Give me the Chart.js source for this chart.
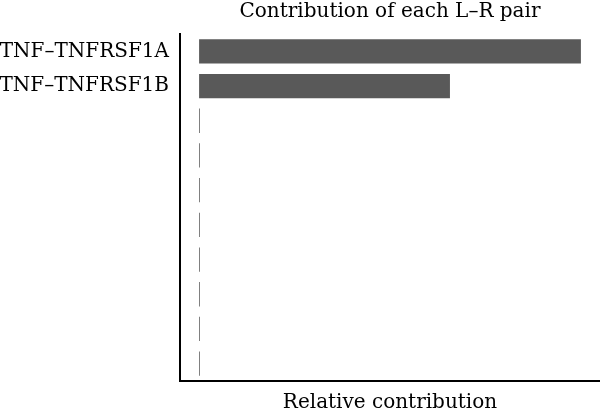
<!DOCTYPE html>
<html><head><meta charset="utf-8">
<script src="https://cdn.jsdelivr.net/npm/chart.js@4"></script>
<style>html,body{margin:0;padding:0;background:#fff}#w{width:600px;height:415px}</style>
</head><body><div id="w"><canvas id="c"></canvas></div>
<script>
const categories = ['TNF\u2013TNFRSF1A','TNF\u2013TNFRSF1B','','','','','','','',''];
const contribution = [1, 0.657, 0.002, 0.002, 0.002, 0.002, 0.002, 0.002, 0.002, 0.002];
const xMin = -0.05, xMax = 1.05;
const titleText = 'Contribution of each L\u2013R pair';
const FONT = "'DejaVu Serif', serif";
const titlePlugin = {
  id: 'centerTitle',
  afterDraw(chart) {
    const ctx = chart.ctx, a = chart.chartArea;
    ctx.save();
    ctx.font = "20px " + FONT;
    ctx.fillStyle = '#000';
    ctx.textAlign = 'center';
    ctx.textBaseline = 'middle';
    ctx.fillText(titleText, (a.left + a.right) / 2, 12);
    ctx.restore();
  }
};
new Chart(document.getElementById('c'), {
  type: 'bar',
  data: { labels: categories, datasets: [{ data: contribution, backgroundColor: '#595959', borderWidth: 0, barPercentage: 0.7, categoryPercentage: 1 }] },
  options: {
    indexAxis: 'y', responsive: true, maintainAspectRatio: false, animation: false,
    layout: { padding: { left: 0, right: 0, top: 34, bottom: 0 } },
    plugins: { legend: { display: false }, tooltip: { enabled: false }, title: { display: false } },
    scales: {
      x: { min: xMin, max: xMax, grid: { display: false, drawTicks: false }, border: { display: true, color: '#000', width: 2 },
           ticks: { display: false },
           title: { display: true, text: 'Relative contribution', color: '#000', font: { family: FONT, size: 20 }, padding: { top: 13, bottom: 0 } },
           afterFit: s => { s.height = 34; } },
      y: { grid: { display: false, drawTicks: false }, border: { display: true, color: '#000', width: 2 },
           ticks: { color: '#000', font: { family: FONT, size: 20 }, padding: 11 },
           afterFit: s => { s.width = 180; } }
    }
  },
  plugins: [titlePlugin]
});
</script></body></html>
